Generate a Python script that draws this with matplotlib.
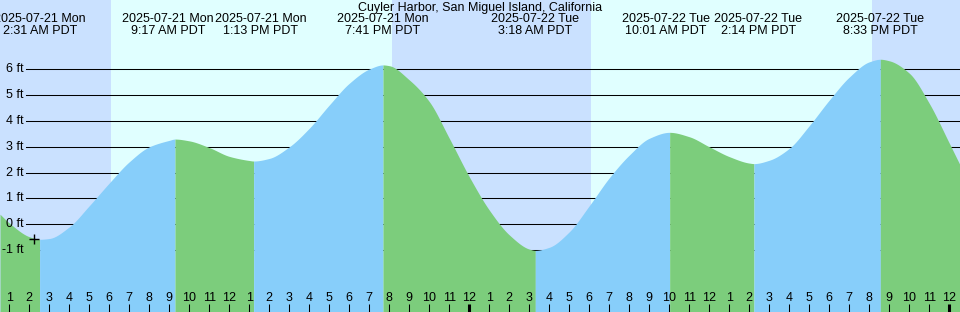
"""
plot.py
-------
Grafik pasang surut Cuyler Harbor (21-22 Juli 2025), gaya XTide.
Disimpan ke out.png (960x312 piksel).
"""

import numpy as np
import matplotlib
matplotlib.use("Agg")  # backend non-interaktif
import matplotlib.pyplot as plt

JUDUL = "Cuyler Harbor, San Miguel Island, California"

# Tinggi air (ft) dibaca tiap jam; jam dihitung dari 2025-07-21 00:00 PDT
jam_baca = list(range(1, 49))
tinggi_baca = [
    0.05, -0.48, -0.55, -0.10, 0.72, 1.60, 2.42, 3.00, 3.25, 3.23, 2.97, 2.63,
    2.47, 2.55, 3.00, 3.72, 4.62, 5.46, 6.01, 6.14, 5.59, 4.75, 3.33, 1.84,
    0.55, -0.41, -0.96, -0.89, -0.29, 0.72, 1.80, 2.68, 3.33, 3.56, 3.39, 3.00,
    2.62, 2.37, 2.48, 2.94, 3.82, 4.81, 5.70, 6.29, 6.33, 5.85, 4.68, 3.14,
]

# Nilai di tepi kiri dan kanan grafik
jam_tepi = [0.535, 48.535]
tinggi_tepi = [0.39, 2.30]

# Pasang tertinggi / surut terendah
jam_ekstrem = [2.517, 9.283, 13.217, 19.683, 27.300, 34.017, 38.233, 44.550]
tinggi_ekstrem = [-0.58, 3.30, 2.45, 6.17, -1.01, 3.56, 2.35, 6.39]
tanggal_ekstrem = [
    "2025-07-21 Mon", "2025-07-21 Mon", "2025-07-21 Mon", "2025-07-21 Mon",
    "2025-07-22 Tue", "2025-07-22 Tue", "2025-07-22 Tue", "2025-07-22 Tue",
]
waktu_ekstrem = [
    "2:31 AM PDT", "9:17 AM PDT", "1:13 PM PDT", "7:41 PM PDT",
    "3:18 AM PDT", "10:01 AM PDT", "2:14 PM PDT", "8:33 PM PDT",
]

# Matahari terbit / terbenam (jam)
jam_terbit = [6.07, 30.07]
jam_terbenam = [20.13, 44.15]

# Garis bantu ketinggian (ft)
garis_ft = [6, 5, 4, 3, 2, 1, 0, -1]

# Penanda "+" (waktu sekarang)
jam_penanda = 2.25
tinggi_penanda = -0.58

WARNA_SIANG = "#e0ffff"
WARNA_MALAM = "#cae1ff"
WARNA_NAIK = "#87cefa"
WARNA_TURUN = "#7ccd7c"

plt.rcParams["font.family"] = ["Liberation Sans", "DejaVu Sans"]


def kurva_halus(x, y, x_baru):
    """Garis halus monoton (PCHIP) lewat titik-titik hasil baca."""
    x = np.asarray(x, dtype=float)
    y = np.asarray(y, dtype=float)
    h = np.diff(x)
    delta = np.diff(y) / h
    n = len(x)
    d = np.zeros(n)
    for k in range(1, n - 1):
        if delta[k - 1] * delta[k] > 0:
            w1 = 2 * h[k] + h[k - 1]
            w2 = h[k] + 2 * h[k - 1]
            d[k] = (w1 + w2) / (w1 / delta[k - 1] + w2 / delta[k])
    d[0] = delta[0]
    d[-1] = delta[-1]

    i = np.clip(np.searchsorted(x, x_baru) - 1, 0, n - 2)
    t = (x_baru - x[i]) / h[i]
    h00 = 2 * t**3 - 3 * t**2 + 1
    h10 = t**3 - 2 * t**2 + t
    h01 = -2 * t**3 + 3 * t**2
    h11 = t**3 - t**2
    return (h00 * y[i] + h10 * h[i] * d[i]
            + h01 * y[i + 1] + h11 * h[i] * d[i + 1])


def geser_label(pusat, jarak_min):
    """Geser pusat label yang bertumpuk supaya tidak saling menimpa."""
    pusat = list(pusat)
    for i in range(len(pusat) - 1):
        jarak = pusat[i + 1] - pusat[i]
        if jarak < jarak_min:
            kurang = (jarak_min - jarak) / 2
            pusat[i] -= kurang
            pusat[i + 1] += kurang
    return pusat


def gambar_grafik(path_output):
    lebar_px, tinggi_px = 960, 312
    fig = plt.figure(figsize=(lebar_px / 100, tinggi_px / 100), dpi=100)
    ax = fig.add_axes([0, 0, 1, 1])
    ax.set_axis_off()

    x_min, x_max = jam_tepi
    y_min, y_max = -3.395, 8.684
    ax.set_xlim(x_min, x_max)
    ax.set_ylim(y_min, y_max)

    # Latar siang / malam
    ax.add_patch(plt.Rectangle((x_min, y_min), x_max - x_min, y_max - y_min,
                               color=WARNA_SIANG, zorder=0, lw=0))
    batas_malam = [(x_min, jam_terbit[0]),
                   (jam_terbenam[0], jam_terbit[1]),
                   (jam_terbenam[1], x_max)]
    for kiri, kanan in batas_malam:
        ax.axvspan(kiri, kanan, color=WARNA_MALAM, lw=0, zorder=0.5)

    # Garis bantu ketinggian (di belakang kurva)
    for ft in garis_ft:
        ax.axhline(ft, xmin=26 / lebar_px, xmax=1, color="black",
                   linewidth=0.75, zorder=1)

    # Gabungkan semua titik kurva
    t = np.array(jam_baca + jam_tepi + jam_ekstrem, dtype=float)
    h = np.array(tinggi_baca + tinggi_tepi + tinggi_ekstrem, dtype=float)
    urut = np.argsort(t)
    t, h = t[urut], h[urut]

    # Isi bawah kurva: biru saat naik, hijau saat turun
    titik_batas = [x_min] + jam_ekstrem + [x_max]
    for a, b in zip(titik_batas[:-1], titik_batas[1:]):
        t_seg = np.linspace(a, b, 300)
        h_seg = kurva_halus(t, h, t_seg)
        naik = h_seg[-1] > h_seg[0]
        ax.fill_between(t_seg, h_seg, y_min,
                        color=WARNA_NAIK if naik else WARNA_TURUN,
                        linewidth=0, zorder=2)

    # Penanda "+"
    ax.plot(jam_penanda, tinggi_penanda, marker="+", color="black",
            markersize=7, markeredgewidth=1, zorder=4)

    # Label ketinggian
    trans_y = ax.get_yaxis_transform()
    for ft in garis_ft:
        ax.text(24 / lebar_px, ft, f"{ft} ft", transform=trans_y,
                ha="right", va="center", fontsize=9, zorder=5)

    # Judul dan label waktu ekstrem
    ax.text(0.5, 1 - 7.5 / tinggi_px, JUDUL, transform=ax.transAxes,
            ha="center", va="center", fontsize=9, zorder=5)
    trans_x = ax.get_xaxis_transform()
    pusat = geser_label(jam_ekstrem, 4.63)
    for x, tgl, wkt in zip(pusat, tanggal_ekstrem, waktu_ekstrem):
        ax.text(x, 1 - 19.5 / tinggi_px, tgl, transform=trans_x,
                ha="center", va="center", fontsize=9, zorder=5)
        ax.text(x, 1 - 31.5 / tinggi_px, wkt, transform=trans_x,
                ha="center", va="center", fontsize=9, zorder=5)

    # Sumbu jam di bagian bawah
    for jam in jam_baca:
        tengah_malam = jam % 24 == 0
        ax.vlines(jam, 0, 8 / tinggi_px, transform=trans_x, color="black",
                  linewidth=2.2 if tengah_malam else 0.75, zorder=5)
        ax.text(jam, 14 / tinggi_px, str((jam - 1) % 12 + 1),
                transform=trans_x, ha="center", va="center",
                fontsize=9, zorder=5)

    fig.savefig(path_output, dpi=100)
    plt.close(fig)


if __name__ == "__main__":
    gambar_grafik("out.png")
